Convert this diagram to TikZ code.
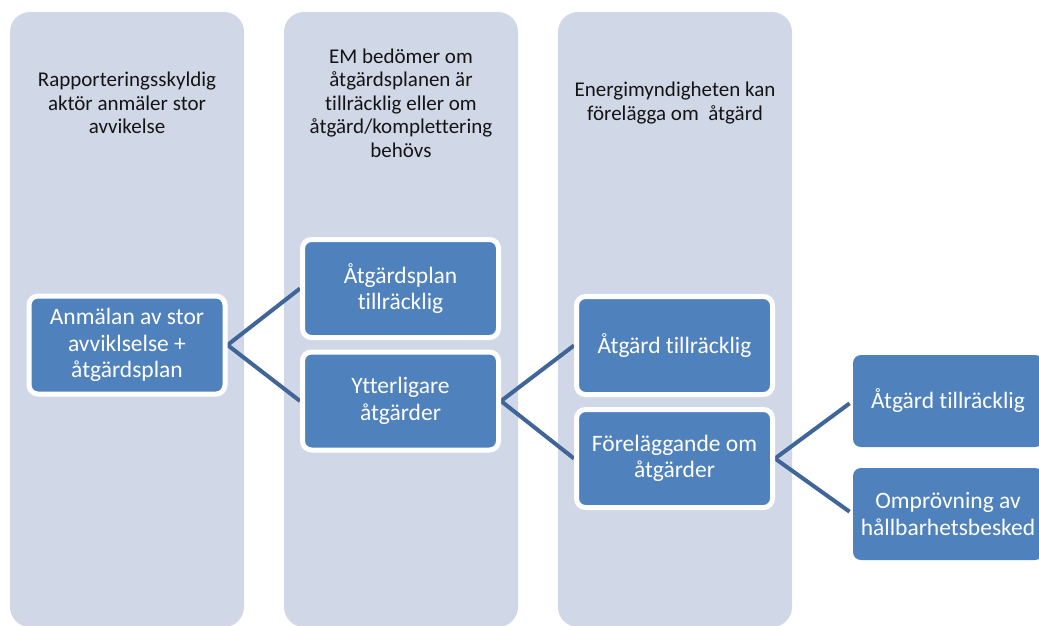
\documentclass[tikz,border=0pt]{standalone}
\usepackage{fontspec}
\setmainfont{Carlito}[Ligatures={NoCommon}]
\usetikzlibrary{backgrounds}
\definecolor{lane}{RGB}{208,216,232}
\definecolor{boxblue}{RGB}{79,129,189}
\definecolor{linkblue}{RGB}{64,101,152}
\definecolor{lanetext}{RGB}{20,20,20}
\tikzset{
  lanebox/.style={fill=lane, draw=none, rounded corners=20pt},
  lanetitle/.style={align=center, text=lanetext, font=\fontsize{21}{23.5}\selectfont, inner sep=0pt},
  framedbox/.style={fill=boxblue, draw=white, line width=5pt, rounded corners=9pt,
    minimum width=196pt, minimum height=98pt, inner sep=0pt, align=center, text=white,
    font=\fontsize{23.5}{26.5}\selectfont},
  plainbox/.style={fill=boxblue, draw=none, rounded corners=8pt,
    minimum width=190pt, minimum height=92pt, inner sep=0pt, align=center, text=white,
    font=\fontsize{23.5}{26.5}\selectfont},
  link/.style={draw=linkblue, line width=4pt},
}
\begin{document}
\begin{tikzpicture}[x=1pt, y=-1pt]
\useasboundingbox (0,0) rectangle (1039,625);

% step titles
\node[lanetitle] (t1) at (127,103) {Rapporteringsskyldig\\aktör anmäler stor\\avvikelse};
\node[lanetitle] (t2) at (401,103) {EM bedömer om\\åtgärdsplanen är\\tillräcklig eller om\\åtgärd/komplettering\\behövs};
\node[lanetitle] (t3) at (675,103) {Energimyndigheten kan\\förelägga om\ \ åtgärd};

% process boxes
\node[framedbox] (a) at (127,345) {Anmälan av stor\\avviklselse +\\åtgärdsplan};
\node[framedbox] (b) at (400.5,288.5) {Åtgärdsplan\\tillräcklig};
\node[framedbox] (c) at (400.5,401) {Ytterligare\\åtgärder};
\node[framedbox] (d) at (674.5,345.5) {Åtgärd tillräcklig};
\node[framedbox] (e) at (674.5,458.5) {Föreläggande om\\åtgärder};
\node[plainbox] (f) at (948,401) {Åtgärd tillräcklig};
\node[plainbox] (g) at (948,514) {Omprövning av\\hållbarhetsbesked};

\begin{scope}[on background layer]
  % lanes
  \path[lanebox] (10,12) rectangle (244,627);
  \path[lanebox] (284,12) rectangle (518,627);
  \path[lanebox] (558,12) rectangle (792,627);
  % connectors
  \draw[link] (b.west) -- (a.east) -- (c.west);
  \draw[link] (d.west) -- (c.east) -- (e.west);
  \draw[link, shorten <=4pt] (f.west) -- (e.east);
  \draw[link, shorten >=4pt] (e.east) -- (g.west);
\end{scope}
\end{tikzpicture}
\end{document}
